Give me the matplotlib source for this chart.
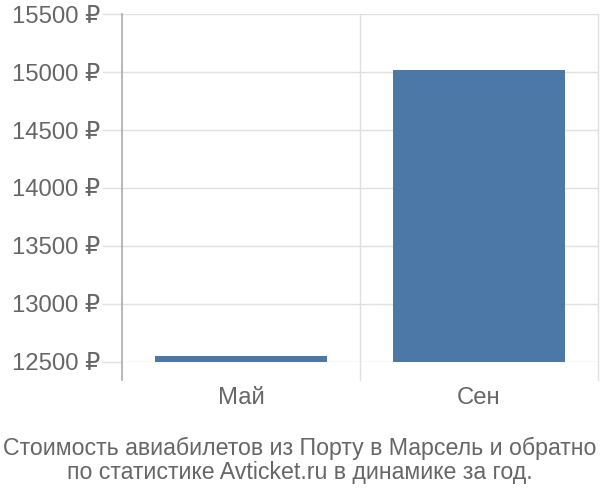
import matplotlib
matplotlib.use("Agg")
import matplotlib.pyplot as plt
from matplotlib.ticker import FuncFormatter
import matplotlib.transforms as mtrans

categories = ["Май", "Сен"]
values = [12550, 15015]
yticks = [12500, 13000, 13500, 14000, 14500, 15000, 15500]
title_lines = ["Стоимость авиабилетов из Порту в Марсель и обратно",
               "по статистике Avticket.ru в динамике за год."]

plt.rcParams['font.family'] = ['Liberation Sans', 'DejaVu Sans']
TXT = '#666666'
GRID = '#e0e0e0'
BAR = '#4c78a8'

fig = plt.figure(figsize=(6, 5), dpi=100)
W, H = 600, 500
ax = fig.add_axes([122 / W, 1 - 362 / H, (598 - 122) / W, (362 - 14) / H])

x = list(range(len(categories)))
ax.bar(x, [v - yticks[0] for v in values], bottom=yticks[0], width=0.72, color=BAR, zorder=3)
ax.set_xlim(-0.5, len(categories) - 0.5)
ax.set_ylim(yticks[0], yticks[-1])

for s in ['top', 'right', 'bottom', 'left']:
    ax.spines[s].set_visible(False)

ax.set_yticks(yticks)
ax.yaxis.set_major_formatter(FuncFormatter(lambda v, p: f"{int(v)} ₽"))
ax.tick_params(axis='y', length=14.4, color=GRID, width=1, labelsize=17.2, labelcolor=TXT, pad=1)
for t in yticks:
    ax.axhline(t, color=GRID, lw=1, zorder=1)

ax.set_xticks(x)
ax.set_xticklabels(categories)
ax.tick_params(axis='x', length=0, labelsize=17.2, labelcolor=TXT, pad=18)

trans = mtrans.blended_transform_factory(ax.transData, ax.transAxes)
ext = 18 / 348
for b in [i + 0.5 for i in range(len(categories))]:
    ax.plot([b, b], [-ext, 1], transform=trans, color=GRID, lw=1, clip_on=False, zorder=1)
ax.plot([-0.5, -0.5], [-ext, 1], transform=trans, color='#aaaaaa', lw=1.2, clip_on=False, zorder=4)

fig.text(0.5, 1 - 448 / H, title_lines[0], ha='center', va='center', fontsize=16.7, color=TXT)
fig.text(0.5, 1 - 473 / H, title_lines[1], ha='center', va='center', fontsize=16.7, color=TXT)

fig.savefig("out.png", dpi=100)
